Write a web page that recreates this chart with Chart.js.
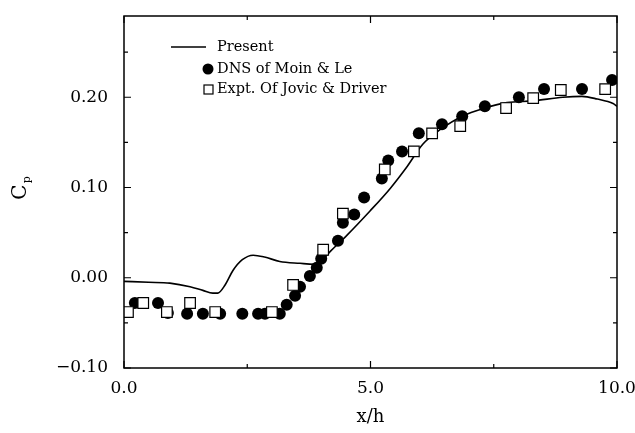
<!DOCTYPE html>
<html>
<head>
<meta charset="utf-8">
<script src="https://cdn.jsdelivr.net/npm/chart.js@4.4.1/dist/chart.umd.min.js"></script>
<style>
  html, body { margin: 0; padding: 0; background: #fff; }
</style>
</head>
<body>
<canvas id="graficoCp" width="635" height="433"></canvas>
<script>
// Curva "Present" (línea continua)
const presentX = [0, 0.5, 0.93, 1.34, 1.6, 1.8, 1.9, 2.05, 2.21, 2.4, 2.62, 2.85, 3.16, 3.57, 3.85, 4.0, 4.2, 4.52, 4.99, 5.4, 5.74, 6.06, 6.41, 6.86, 7.32, 7.77, 8.3, 8.9, 9.29, 9.6, 9.92, 10.0];
const presentY = [-0.004, -0.005, -0.006, -0.01, -0.014, -0.017, -0.017, -0.008, 0.008, 0.02, 0.025, 0.023, 0.018, 0.016, 0.015, 0.019, 0.03, 0.047, 0.074, 0.099, 0.123, 0.148, 0.164, 0.179, 0.188, 0.194, 0.196, 0.2, 0.201, 0.198, 0.193, 0.19];

// DNS of Moin & Le (círculos llenos)
const dnsX = [0.22, 0.69, 0.89, 1.28, 1.6, 1.95, 2.4, 2.72, 2.86, 3.16, 3.3, 3.47, 3.57, 3.77, 3.91, 4.0, 4.34, 4.44, 4.67, 4.87, 5.23, 5.36, 5.64, 5.98, 6.45, 6.86, 7.32, 8.01, 8.52, 9.29, 9.9];
const dnsY = [-0.028, -0.028, -0.039, -0.04, -0.04, -0.04, -0.04, -0.04, -0.04, -0.04, -0.03, -0.02, -0.01, 0.002, 0.011, 0.021, 0.041, 0.061, 0.07, 0.089, 0.11, 0.13, 0.14, 0.16, 0.17, 0.179, 0.19, 0.2, 0.209, 0.209, 0.219];

// Expt. Of Jovic & Driver (cuadrados vacíos)
const exptX = [0.08, 0.39, 0.87, 1.34, 1.85, 3.0, 3.43, 4.04, 4.44, 5.29, 5.88, 6.25, 6.82, 7.75, 8.3, 8.86, 9.76];
const exptY = [-0.038, -0.028, -0.038, -0.028, -0.038, -0.038, -0.008, 0.031, 0.071, 0.12, 0.14, 0.16, 0.168, 0.188, 0.199, 0.208, 0.209];

// Marcas de los ejes
const ticksX = [0, 5, 10];
const ticksY = [-0.1, 0, 0.1, 0.2];
const menoresX = [2.5, 7.5];
const menoresY = [-0.05, 0.05, 0.15, 0.25];

const etiquetas = ['Present', 'DNS of Moin & Le', 'Expt. Of Jovic & Driver'];

const fuenteSerif = '"DejaVu Serif", "Liberation Serif", serif';

const aPuntos = (xs, ys) => xs.map((x, i) => ({ x: x, y: ys[i] }));

// Marco, marcas interiores, leyenda y título C_p
const marcoPlugin = {
    id: 'marco',
    afterDatasetsDraw(chart) {
        const ctx = chart.ctx;
        const a = chart.chartArea;
        const sx = chart.scales.x;
        const sy = chart.scales.y;
        ctx.save();
        ctx.strokeStyle = '#000';
        ctx.lineWidth = 1.5;
        ctx.strokeRect(a.left, a.top, a.right - a.left, a.bottom - a.top);

        ctx.lineWidth = 1.2;
        const marcaX = (v, largo) => {
            const px = sx.getPixelForValue(v);
            ctx.beginPath();
            ctx.moveTo(px, a.bottom); ctx.lineTo(px, a.bottom - largo);
            ctx.moveTo(px, a.top); ctx.lineTo(px, a.top + largo);
            ctx.stroke();
        };
        const marcaY = (v, largo) => {
            const py = sy.getPixelForValue(v);
            ctx.beginPath();
            ctx.moveTo(a.left, py); ctx.lineTo(a.left + largo, py);
            ctx.moveTo(a.right, py); ctx.lineTo(a.right - largo, py);
            ctx.stroke();
        };
        ticksX.forEach(v => marcaX(v, 7));
        menoresX.forEach(v => marcaX(v, 4));
        ticksY.forEach(v => marcaY(v, 7));
        menoresY.forEach(v => marcaY(v, 4));
        ctx.restore();
    },
    afterDraw(chart) {
        const ctx = chart.ctx;
        const ds = chart.data.datasets;
        ctx.save();
        ctx.fillStyle = '#000';
        ctx.strokeStyle = '#000';
        ctx.textBaseline = 'middle';
        ctx.textAlign = 'left';
        ctx.font = '14.5px ' + fuenteSerif;

        // Present
        ctx.lineWidth = ds[0].borderWidth;
        ctx.beginPath();
        ctx.moveTo(171, 47); ctx.lineTo(206, 47);
        ctx.stroke();
        ctx.fillText(etiquetas[0], 217, 47);

        // DNS
        ctx.beginPath();
        ctx.arc(208, 69, 5.5, 0, Math.PI * 2);
        ctx.fill();
        ctx.fillText(etiquetas[1], 217, 69);

        // Expt
        ctx.fillStyle = '#fff';
        ctx.lineWidth = 1.2;
        ctx.fillRect(204, 85, 9, 9);
        ctx.strokeRect(204, 85, 9, 9);
        ctx.fillStyle = '#000';
        ctx.fillText(etiquetas[2], 217, 89);

        // Título eje Y: C con subíndice p
        ctx.translate(21, 192);
        ctx.rotate(-Math.PI / 2);
        ctx.textAlign = 'center';
        ctx.font = '20px ' + fuenteSerif;
        ctx.fillText('C', 0, 0);
        const anchoC = ctx.measureText('C').width;
        ctx.textAlign = 'left';
        ctx.font = '11px ' + fuenteSerif;
        ctx.fillText('p', anchoC / 2 + 1, 6);
        ctx.restore();
    }
};

new Chart(document.getElementById('graficoCp'), {
    type: 'scatter',
    data: {
        datasets: [
            {
                type: 'line',
                label: etiquetas[0],
                data: aPuntos(presentX, presentY),
                borderColor: '#000',
                borderWidth: 1.6,
                pointRadius: 0,
                fill: false,
                cubicInterpolationMode: 'monotone',
                order: 3
            },
            {
                label: etiquetas[1],
                data: aPuntos(dnsX, dnsY),
                pointStyle: 'circle',
                pointRadius: 6,
                backgroundColor: '#000',
                borderColor: '#000',
                borderWidth: 0,
                order: 2
            },
            {
                label: etiquetas[2],
                data: aPuntos(exptX, exptY),
                pointStyle: 'rect',
                pointRadius: 7.5,
                backgroundColor: '#fff',
                borderColor: '#000',
                borderWidth: 1.2,
                order: 1
            }
        ]
    },
    options: {
        responsive: false,
        animation: false,
        layout: { padding: { top: 16, right: 18, left: 0, bottom: 0 } },
        plugins: {
            legend: { display: false },
            tooltip: { enabled: false }
        },
        scales: {
            x: {
                type: 'linear',
                min: 0,
                max: 10,
                afterBuildTicks: s => { s.ticks = ticksX.map(v => ({ value: v })); },
                afterFit: s => {
                    s.height = 65;
                    s.paddingLeft = 0;
                    s.paddingRight = 0;
                },
                grid: { display: false, drawTicks: false },
                border: { display: false },
                ticks: {
                    padding: 10,
                    color: '#000',
                    font: { family: fuenteSerif, size: 17 },
                    callback: v => v.toFixed(1)
                },
                title: {
                    display: true,
                    text: 'x/h',
                    color: '#000',
                    font: { family: fuenteSerif, size: 18 },
                    padding: { top: 0, bottom: 5 }
                }
            },
            y: {
                type: 'linear',
                min: -0.1,
                max: 0.29,
                afterBuildTicks: s => { s.ticks = ticksY.map(v => ({ value: v })); },
                afterFit: s => {
                    s.width = 124;
                    s.paddingTop = 0;
                    s.paddingBottom = 0;
                },
                grid: { display: false, drawTicks: false },
                border: { display: false },
                ticks: {
                    padding: 16,
                    color: '#000',
                    font: { family: fuenteSerif, size: 17 },
                    callback: v => (v < 0 ? '\u2212' : '') + Math.abs(v).toFixed(2)
                }
            }
        }
    },
    plugins: [marcoPlugin]
});
</script>
</body>
</html>
